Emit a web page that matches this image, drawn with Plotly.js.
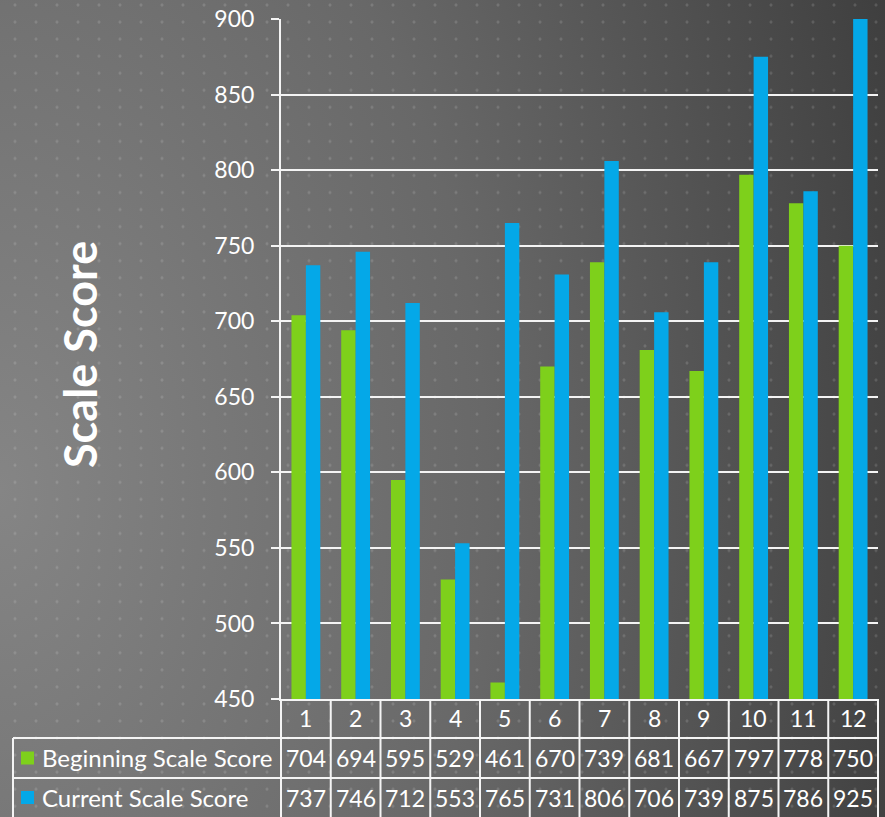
<!DOCTYPE html>
<html>
<head>
<meta charset="utf-8">
<script src="https://cdn.plot.ly/plotly-3.0.1.min.js"></script>
<style>
  html, body { margin: 0; padding: 0; background: #3e3e3e; }
  #wrap {
    width: 885px; height: 817px; position: relative; overflow: hidden;
    background-image:
      radial-gradient(ellipse 1.2px 1.7px at 50% 50%, rgba(255,255,255,0.17) 0%, rgba(255,255,255,0.17) 80%, rgba(255,255,255,0) 100%),
      radial-gradient(ellipse 110% 180% at 0% 60%, #858585 0%, #686868 50%, #3c3c3c 100%);
    background-size: 21px 17.05px, 100% 100%;
    background-position: 4.5px 13.55px, 0 0;
  }
  #chart { width: 885px; height: 817px; }
</style>
</head>
<body>
<div id="wrap"><div id="chart"></div></div>
<script>
// ---- data ----
const categories = ['1','2','3','4','5','6','7','8','9','10','11','12'];
const beginningScores = [704, 694, 595, 529, 461, 670, 739, 681, 667, 797, 778, 750];
const currentScores   = [737, 746, 712, 553, 765, 731, 806, 706, 739, 875, 786, 925];
const seriesNames = ['Beginning Scale Score', 'Current Scale Score'];
const yTickValues = [450, 500, 550, 600, 650, 700, 750, 800, 850, 900];
const yTitle = 'Scale Score';

// ---- layout constants ----
const W = 885, H = 817;
const M = { l: 281, r: 7, t: 19, b: 118 };
const plotW = W - M.l - M.r, plotH = H - M.t - M.b;
const px2x = px => (px - M.l) / plotW;
const py2y = py => (H - M.b - py) / plotH;

const GREEN = '#7ed01b', BLUE = '#04a8e8', WHITE = '#f4f4f4';
const FONT = 'Lato, "Open Sans", sans-serif';

const traces = [
  { type: 'bar', name: seriesNames[0], x: categories, y: beginningScores,
    marker: { color: GREEN, line: { width: 0 } }, hoverinfo: 'x+y' },
  { type: 'bar', name: seriesNames[1], x: categories, y: currentScores,
    marker: { color: BLUE, line: { width: 0 } }, hoverinfo: 'x+y' }
];

// table geometry (pixels)
const rowTop = H - M.b;      // 699
const row1 = 738, row2 = 778, tableBottom = 817;
const tableLeft = 13;
const n = categories.length;

const shapes = [];
const lineStyle = { color: WHITE, width: 2 };
for (let k = 0; k <= n; k++) {
  shapes.push({ type: 'line', xref: 'paper', yref: 'paper',
    x0: k / n, x1: k / n, y0: 0, y1: py2y(tableBottom), line: lineStyle });
}
shapes.push({ type: 'line', xref: 'paper', yref: 'paper',
  x0: px2x(tableLeft), x1: px2x(tableLeft), y0: py2y(row1), y1: py2y(tableBottom), line: lineStyle });
[row1, row2].forEach(py => shapes.push({ type: 'line', xref: 'paper', yref: 'paper',
  x0: px2x(tableLeft), x1: 1, y0: py2y(py), y1: py2y(py), line: lineStyle }));
[[GREEN, (row1 + row2) / 2], [BLUE, (row2 + tableBottom) / 2]].forEach(([c, cy]) => shapes.push({
  type: 'rect', xref: 'paper', yref: 'paper',
  x0: px2x(21), x1: px2x(34), y0: py2y(cy - 6.5), y1: py2y(cy + 6.5),
  fillcolor: c, line: { width: 0 } }));

const annotations = [];
const numFont = { family: FONT, size: 23, color: '#ffffff' };
categories.forEach((c, i) => {
  annotations.push({ xref: 'x', yref: 'paper', x: i, y: py2y((rowTop + row1) / 2),
    text: c, showarrow: false, font: numFont, xanchor: 'center', yanchor: 'middle' });
  annotations.push({ xref: 'x', yref: 'paper', x: i, y: py2y((row1 + row2) / 2),
    text: String(beginningScores[i]), showarrow: false, font: numFont, xanchor: 'center', yanchor: 'middle' });
  annotations.push({ xref: 'x', yref: 'paper', x: i, y: py2y((row2 + tableBottom) / 2),
    text: String(currentScores[i]), showarrow: false, font: numFont, xanchor: 'center', yanchor: 'middle' });
});
seriesNames.forEach((s, j) => {
  const cy = j === 0 ? (row1 + row2) / 2 : (row2 + tableBottom) / 2;
  annotations.push({ xref: 'paper', yref: 'paper', x: px2x(40), y: py2y(cy),
    text: s, showarrow: false, xanchor: 'left', yanchor: 'middle',
    font: { family: FONT, size: 24, color: '#ffffff' } });
});
annotations.push({ xref: 'paper', yref: 'paper', x: px2x(80), y: py2y(355),
  text: '<b>' + yTitle + '</b>', textangle: -90, showarrow: false,
  xanchor: 'center', yanchor: 'middle',
  font: { family: FONT, size: 45, color: '#ffffff' } });

const layout = {
  width: W, height: H,
  margin: M,
  paper_bgcolor: 'rgba(0,0,0,0)',
  plot_bgcolor: 'rgba(0,0,0,0)',
  showlegend: false,
  barmode: 'group',
  bargap: 0.42,
  bargroupgap: 0,
  xaxis: {
    type: 'category', range: [-0.5, n - 0.5],
    showticklabels: false, ticks: '', showgrid: false, zeroline: false,
    showline: true, linecolor: WHITE, linewidth: 2, fixedrange: true
  },
  yaxis: {
    range: [450, 900], tickvals: yTickValues, ticktext: yTickValues.map(String),
    showgrid: true, gridcolor: WHITE, gridwidth: 2, zeroline: false,
    showline: true, linecolor: WHITE, linewidth: 2,
    ticks: 'outside', ticklen: 8, tickwidth: 2, tickcolor: WHITE,
    ticklabelstandoff: 12,
    tickfont: { family: FONT, size: 23, color: '#ffffff' }, fixedrange: true
  },
  shapes: shapes,
  annotations: annotations
};

Plotly.newPlot('chart', traces, layout, { displayModeBar: false, staticPlot: true });
</script>
</body>
</html>
